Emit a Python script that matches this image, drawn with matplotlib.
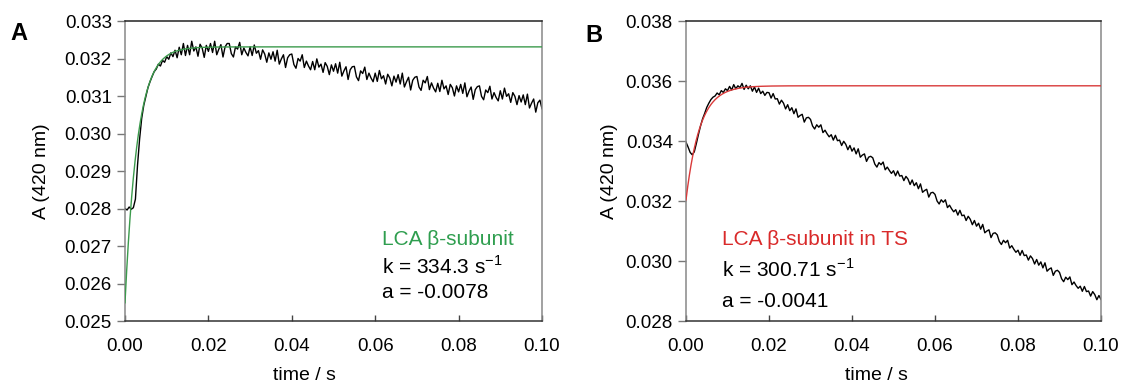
import numpy as np
import matplotlib
matplotlib.use("Agg")
import matplotlib.pyplot as plt

plt.rcParams['font.family'] = ['Liberation Sans', 'DejaVu Sans']

# time axis of the traces (s), one reading every 0.5 ms
time_s = np.arange(201) * 0.0005

# panel A trace, absorbance x 1e-3
trace_A = [
    28.00, 27.96, 28.04, 27.98, 28.02, 28.25, 29.15, 29.85, 30.40, 30.75,
    30.98, 31.22, 31.38, 31.52, 31.65, 31.72, 31.85, 31.80, 31.95, 31.90,
    32.05, 31.98, 32.15, 32.05, 32.22, 32.02, 32.30, 32.10, 32.40, 32.08,
    32.35, 32.10, 32.46, 32.20, 32.31, 32.06, 32.38, 32.28, 32.03, 32.35,
    32.19, 32.40, 32.16, 32.46, 32.10, 32.25, 32.37, 32.04, 32.31, 32.40,
    32.40, 32.13, 32.04, 32.31, 32.25, 32.43, 32.10, 32.28, 32.16, 32.07,
    32.31, 32.08, 32.36, 32.14, 32.21, 31.98, 32.23, 32.12, 31.90, 32.15,
    31.98, 32.18, 31.93, 32.22, 31.85, 31.99, 32.10, 31.76, 32.02, 32.10,
    32.12, 31.84, 31.74, 32.00, 31.93, 32.10, 31.76, 31.93, 31.80, 31.70,
    31.92, 31.70, 31.99, 31.77, 31.85, 31.63, 31.89, 31.79, 31.57, 31.83,
    31.66, 31.86, 31.61, 31.90, 31.53, 31.67, 31.78, 31.44, 31.70, 31.78,
    31.79, 31.51, 31.41, 31.67, 31.60, 31.77, 31.44, 31.61, 31.48, 31.38,
    31.61, 31.39, 31.68, 31.46, 31.54, 31.32, 31.58, 31.48, 31.27, 31.53,
    31.37, 31.57, 31.32, 31.61, 31.24, 31.38, 31.50, 31.16, 31.42, 31.50,
    31.52, 31.24, 31.15, 31.42, 31.35, 31.52, 31.17, 31.35, 31.21, 31.11,
    31.34, 31.12, 31.42, 31.19, 31.27, 31.04, 31.31, 31.22, 31.00, 31.27,
    31.11, 31.31, 31.07, 31.35, 30.98, 31.13, 31.24, 30.91, 31.17, 31.25,
    31.27, 30.99, 30.90, 31.16, 31.09, 31.26, 30.92, 31.09, 30.96, 30.87,
    31.14, 30.92, 31.21, 30.99, 31.06, 30.83, 31.09, 30.99, 30.77, 31.01,
    30.84, 31.03, 30.77, 31.05, 30.68, 30.81, 30.92, 30.57, 30.82, 30.89,
    30.66,
]

# panel B trace, absorbance x 1e-3
trace_B = [
    33.96, 33.80, 33.62, 33.54, 33.64, 33.92, 34.22, 34.50, 34.74, 34.92,
    35.12, 35.26, 35.38, 35.46, 35.50, 35.60, 35.54, 35.68, 35.62, 35.74,
    35.68, 35.82, 35.70, 35.88, 35.74, 35.84, 35.78, 35.92, 35.72, 35.86,
    35.74, 35.84, 35.66, 35.80, 35.62, 35.76, 35.58, 35.66, 35.52, 35.62,
    35.61, 35.43, 35.58, 35.40, 35.41, 35.23, 35.36, 35.26, 35.07, 35.21,
    35.01, 35.11, 34.91, 35.07, 34.79, 34.85, 34.89, 34.63, 34.77, 34.79,
    34.72, 34.50, 34.40, 34.54, 34.46, 34.54, 34.28, 34.36, 34.24, 34.14,
    34.21, 34.03, 34.19, 34.01, 34.03, 33.85, 33.99, 33.89, 33.71, 33.85,
    33.66, 33.77, 33.57, 33.74, 33.46, 33.53, 33.57, 33.32, 33.46, 33.49,
    33.44, 33.23, 33.13, 33.28, 33.21, 33.30, 33.04, 33.13, 33.02, 32.92,
    33.01, 32.84, 33.00, 32.83, 32.85, 32.68, 32.82, 32.73, 32.55, 32.70,
    32.51, 32.61, 32.41, 32.57, 32.29, 32.35, 32.39, 32.13, 32.27, 32.29,
    32.22, 32.00, 31.90, 32.04, 31.96, 32.04, 31.78, 31.86, 31.74, 31.64,
    31.71, 31.53, 31.69, 31.51, 31.53, 31.35, 31.49, 31.39, 31.21, 31.35,
    31.16, 31.26, 31.06, 31.22, 30.94, 31.00, 31.04, 30.78, 30.92, 30.94,
    30.87, 30.65, 30.55, 30.69, 30.61, 30.69, 30.43, 30.51, 30.39, 30.29,
    30.36, 30.19, 30.35, 30.18, 30.20, 30.03, 30.17, 30.08, 29.90, 30.05,
    29.86, 29.97, 29.77, 29.94, 29.66, 29.73, 29.77, 29.52, 29.66, 29.69,
    29.62, 29.41, 29.31, 29.46, 29.38, 29.47, 29.21, 29.30, 29.18, 29.09,
    29.16, 28.99, 29.15, 28.98, 29.00, 28.83, 28.98, 28.88, 28.71, 28.85,
    28.72,
]

# single exponential fits: A = plateau + a * exp(-k (t + t0))
fit_A = dict(k=334.3, a=-0.0078, plateau=0.03231, t0=0.0004)
fit_B = dict(k=300.71, a=-0.0041, plateau=0.03584, t0=0.00025)

panels = [
    dict(trace=trace_A, fit=fit_A, color='#3b9a4c', txt_color='#2f9e4f',
         name='LCA \u03b2-subunit', k_txt='334.3', a_txt='-0.0078',
         ylim=(0.025, 0.033), ystep=0.001,
         rect=[125 / 1122, 1 - 321 / 387, 417 / 1122, 300 / 387], txt_x=0.616,
         txt_y=[0.272, 0.183, 0.094], ylab_x=-0.18, xlab_x=0.43),
    dict(trace=trace_B, fit=fit_B, color='#d93a3a', txt_color='#d92a2a',
         name='LCA \u03b2-subunit in TS', k_txt='300.71', a_txt='-0.0041',
         ylim=(0.028, 0.038), ystep=0.002,
         rect=[686 / 1122, 1 - 321 / 387, 415 / 1122, 300 / 387], txt_x=0.087,
         txt_y=[0.272, 0.173, 0.066], ylab_x=-0.164, xlab_x=0.46),
]

fig = plt.figure(figsize=(11.22, 3.87), dpi=100)
t_fit = np.linspace(0, 0.1, 500)

for p in panels:
    ax = fig.add_axes(p['rect'])
    y = np.array(p['trace']) / 1000
    ax.plot(time_s, y, color='black', lw=1.0, zorder=2)
    f = p['fit']
    ax.plot(t_fit, f['plateau'] + f['a'] * np.exp(-f['k'] * (t_fit + f['t0'])),
            color=p['color'], lw=1.0, zorder=3)

    ax.set_xlim(0, 0.1)
    ax.set_ylim(*p['ylim'])
    xt = np.arange(0, 0.1001, 0.02)
    ax.set_xticks(xt)
    ax.set_xticklabels([f"{v:.2f}" for v in xt])
    yt = np.arange(p['ylim'][0], p['ylim'][1] + 1e-9, p['ystep'])
    ax.set_yticks(yt)
    ax.set_yticklabels([f"{v:.3f}" for v in yt])
    ax.tick_params(axis='y', direction='out', length=5.5, width=1, color='#777777',
                   labelsize=13.5, pad=4)
    ax.tick_params(axis='x', direction='in', length=4.5, width=1, color='#444444',
                   labelsize=13.5, pad=12)
    ax.spines['left'].set_color('#888888')
    ax.spines['right'].set_color('#888888')
    ax.spines['top'].set_color('#222222')
    ax.spines['bottom'].set_color('#333333')
    for s in ax.spines.values():
        s.set_linewidth(1.1)

    ax.set_xlabel('time / s', fontsize=14)
    ax.xaxis.set_label_coords(p['xlab_x'], -0.153)
    ax.set_ylabel('A (420 nm)', fontsize=14)
    ax.yaxis.set_label_coords(p['ylab_x'], 0.5)

    ax.text(p['txt_x'], p['txt_y'][0], p['name'], transform=ax.transAxes,
            color=p['txt_color'], fontsize=15, va='center')
    ax.text(p['txt_x'], p['txt_y'][1], 'k = ' + p['k_txt'] + r' s$^{\mathregular{-1}}$',
            transform=ax.transAxes, fontsize=15, va='center')
    ax.text(p['txt_x'], p['txt_y'][2], 'a = ' + p['a_txt'], transform=ax.transAxes,
            fontsize=15, va='center')

fig.text(19 / 1122, 1 - 34 / 387, 'A', fontsize=17, fontweight='bold',
         ha='center', va='center')
fig.text(594 / 1122, 1 - 35 / 387, 'B', fontsize=17, fontweight='bold',
         ha='center', va='center')

fig.savefig('out.png', dpi=100)
